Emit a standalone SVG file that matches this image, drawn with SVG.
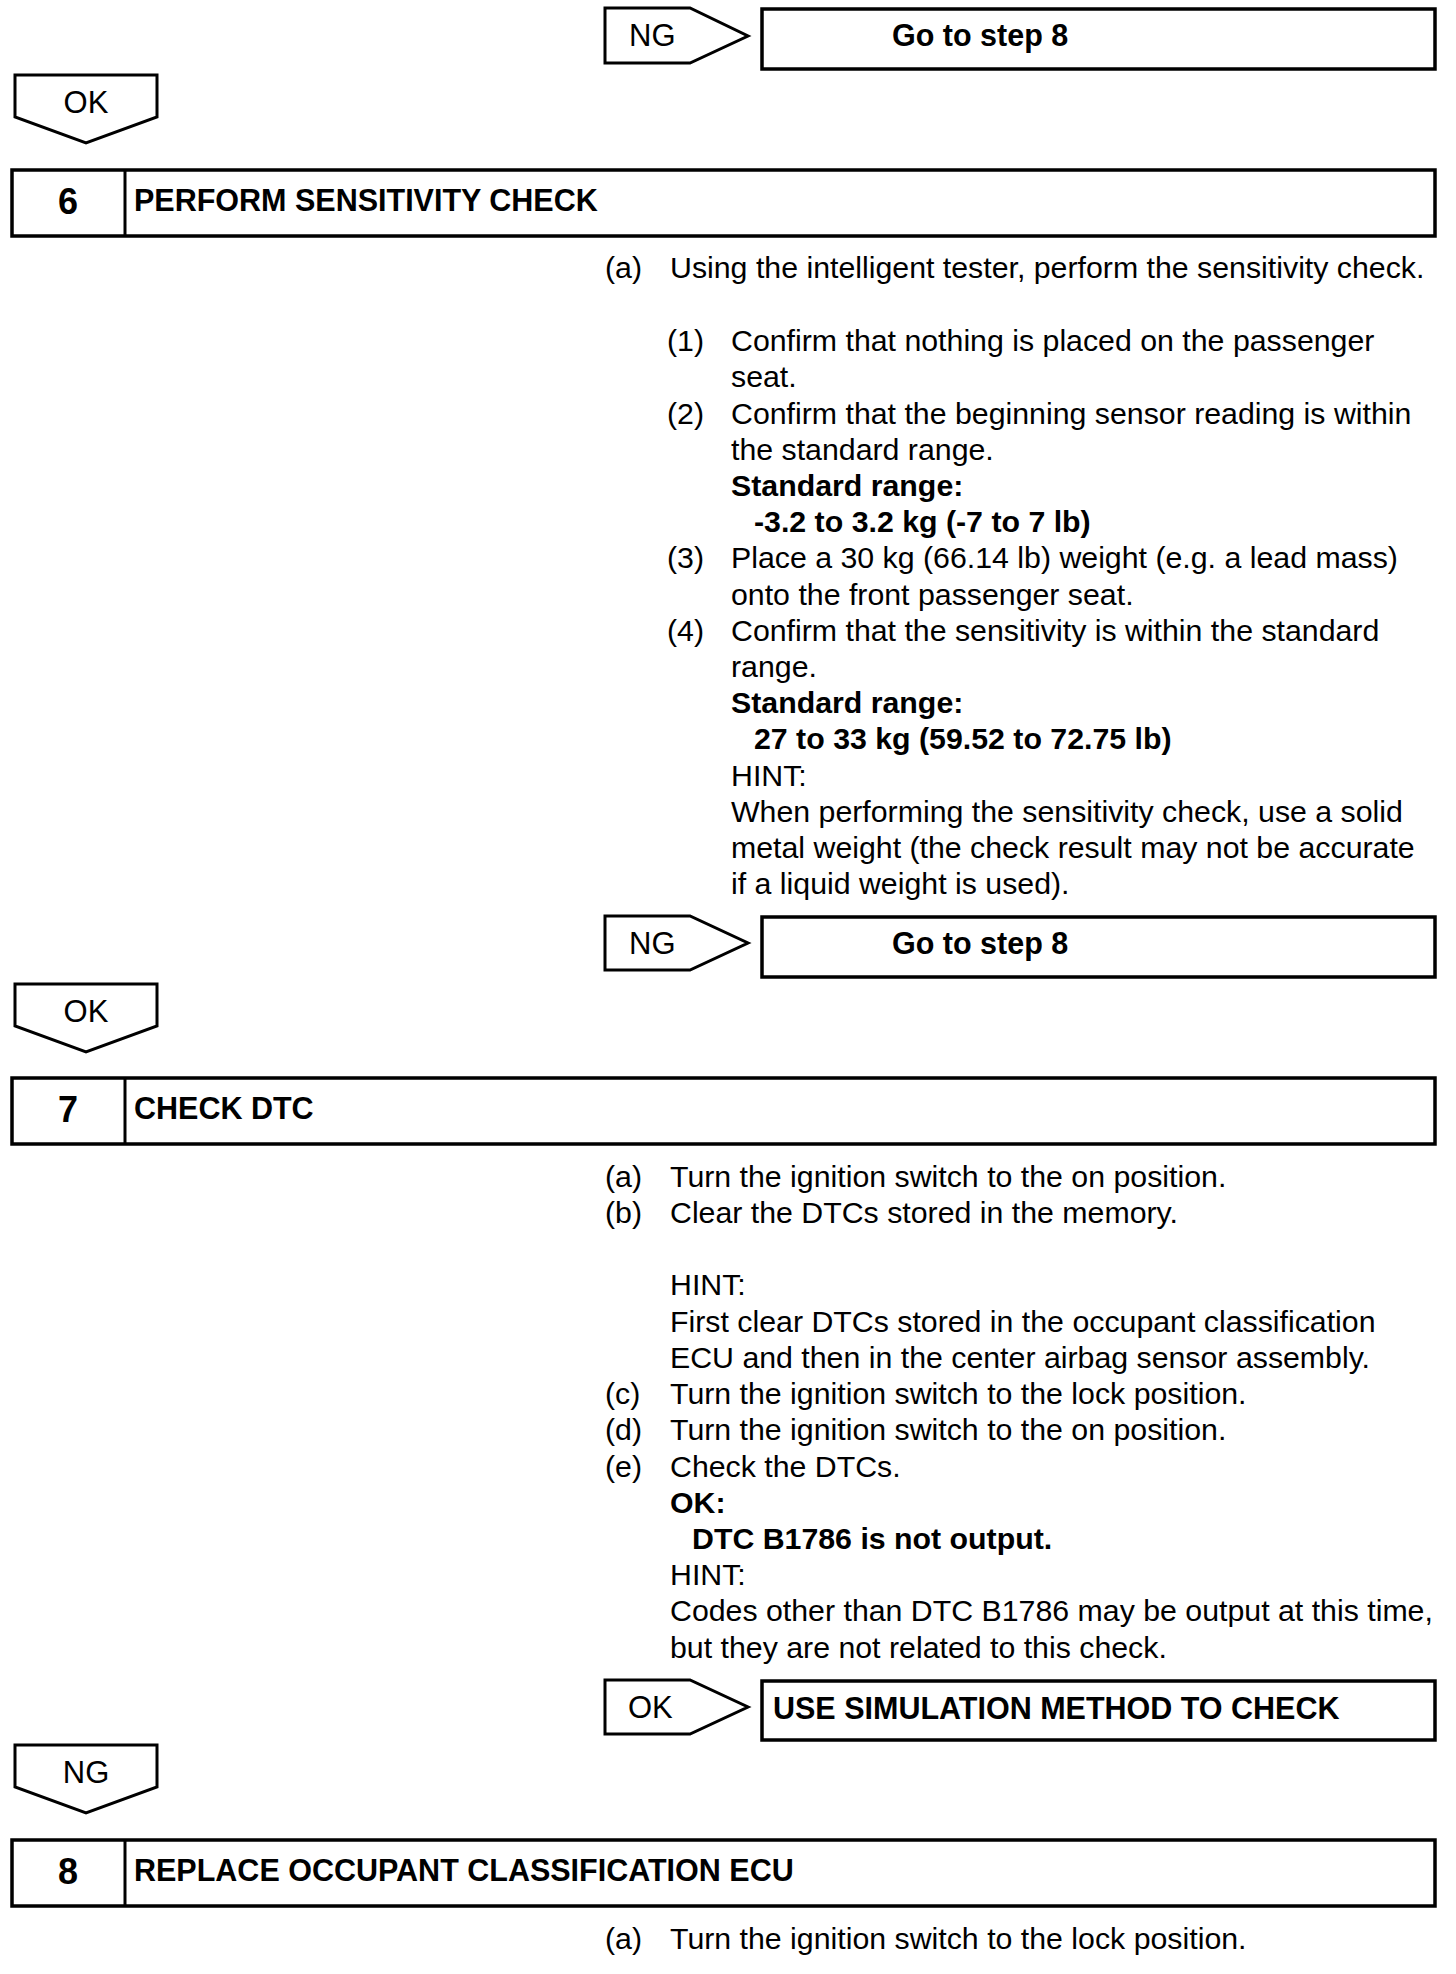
<svg xmlns="http://www.w3.org/2000/svg" width="1456" height="1974" viewBox="0 0 1456 1974">
<style>
  text { font-family: "Liberation Sans", Arial, sans-serif; font-size: 30.3px; fill: #000; }
  .b { font-weight: bold; }
  .c { text-anchor: middle; }
  .hd { font-weight: bold; font-size: 30.5px; }
  .num { font-weight: bold; font-size: 36px; text-anchor: middle; }
  .lbl { font-size: 31px; }
  .box { fill: #fff; stroke: #000; stroke-width: 3.5; }
  .arr { fill: #fff; stroke: #000; stroke-width: 3; stroke-linejoin: miter; }
</style>
<rect x="0" y="0" width="1456" height="1974" fill="#fff"/>

<g id="connectors">
  <g id="ng-6">
    <polygon class="arr" points="605,8 690,8 748,36 690,63 605,63"/>
    <text class="lbl" x="629" y="46">NG</text>
  </g>
  <g id="ok-6">
    <polygon class="arr" points="15,75 157,75 157,117 86,143 15,117"/>
    <text class="lbl c" x="86" y="113">OK</text>
  </g>
  <g id="ng-7">
    <polygon class="arr" points="605,916 690,916 748,943 690,970 605,970"/>
    <text class="lbl" x="629" y="954">NG</text>
  </g>
  <g id="ok-7">
    <polygon class="arr" points="15,984 157,984 157,1026 86,1052 15,1026"/>
    <text class="lbl c" x="86" y="1022">OK</text>
  </g>
  <g id="ok-sim">
    <polygon class="arr" points="605,1680 690,1680 748,1707 690,1734 605,1734"/>
    <text class="lbl" x="628" y="1718">OK</text>
  </g>
  <g id="ng-8">
    <polygon class="arr" points="15,1745 157,1745 157,1787 86,1813 15,1787"/>
    <text class="lbl c" x="86" y="1783">NG</text>
  </g>
</g>

<g id="goto-8-a">
  <rect class="box" x="762" y="9" width="673" height="60"/>
  <text class="hd" x="892" y="46">Go to step 8</text>
</g>

<g id="step-6">
  <rect class="box" x="12" y="170" width="1423" height="66"/>
  <line x1="125" y1="170" x2="125" y2="236" stroke="#000" stroke-width="3"/>
  <text class="num" x="68" y="214">6</text>
  <text class="hd" x="134" y="211">PERFORM SENSITIVITY CHECK</text>
</g>

<g id="step-6-body">
  <text x="605" y="278">(a)</text>
  <text x="670" y="278">Using the intelligent tester, perform the sensitivity check.</text>
  <text x="667" y="351">(1)</text>
  <text x="731" y="351">Confirm that nothing is placed on the passenger</text>
  <text x="731" y="387">seat.</text>
  <text x="667" y="424">(2)</text>
  <text x="731" y="424">Confirm that the beginning sensor reading is within</text>
  <text x="731" y="460">the standard range.</text>
  <text class="b" x="731" y="496">Standard range:</text>
  <text class="b" x="754" y="532">-3.2 to 3.2 kg (-7 to 7 lb)</text>
  <text x="667" y="568">(3)</text>
  <text x="731" y="568">Place a 30 kg (66.14 lb) weight (e.g. a lead mass)</text>
  <text x="731" y="605">onto the front passenger seat.</text>
  <text x="667" y="641">(4)</text>
  <text x="731" y="641">Confirm that the sensitivity is within the standard</text>
  <text x="731" y="677">range.</text>
  <text class="b" x="731" y="713">Standard range:</text>
  <text class="b" x="754" y="749">27 to 33 kg (59.52 to 72.75 lb)</text>
  <text x="731" y="786">HINT:</text>
  <text x="731" y="822">When performing the sensitivity check, use a solid</text>
  <text x="731" y="858">metal weight (the check result may not be accurate</text>
  <text x="731" y="894">if a liquid weight is used).</text>
</g>

<g id="goto-8-b">
  <rect class="box" x="762" y="917" width="673" height="60"/>
  <text class="hd" x="892" y="954">Go to step 8</text>
</g>

<g id="step-7">
  <rect class="box" x="12" y="1078" width="1423" height="66"/>
  <line x1="125" y1="1078" x2="125" y2="1144" stroke="#000" stroke-width="3"/>
  <text class="num" x="68" y="1122">7</text>
  <text class="hd" x="134" y="1119">CHECK DTC</text>
</g>

<g id="step-7-body">
  <text x="605" y="1187">(a)</text>
  <text x="670" y="1187">Turn the ignition switch to the on position.</text>
  <text x="605" y="1223">(b)</text>
  <text x="670" y="1223">Clear the DTCs stored in the memory.</text>
  <text x="670" y="1295">HINT:</text>
  <text x="670" y="1332">First clear DTCs stored in the occupant classification</text>
  <text x="670" y="1368">ECU and then in the center airbag sensor assembly.</text>
  <text x="605" y="1404">(c)</text>
  <text x="670" y="1404">Turn the ignition switch to the lock position.</text>
  <text x="605" y="1440">(d)</text>
  <text x="670" y="1440">Turn the ignition switch to the on position.</text>
  <text x="605" y="1477">(e)</text>
  <text x="670" y="1477">Check the DTCs.</text>
  <text class="b" x="670" y="1513">OK:</text>
  <text class="b" x="692" y="1549">DTC B1786 is not output.</text>
  <text x="670" y="1585">HINT:</text>
  <text x="670" y="1621">Codes other than DTC B1786 may be output at this time,</text>
  <text x="670" y="1658">but they are not related to this check.</text>
</g>

<g id="use-simulation">
  <rect class="box" x="762" y="1681" width="673" height="59"/>
  <text class="hd" x="773" y="1719">USE SIMULATION METHOD TO CHECK</text>
</g>

<g id="step-8">
  <rect class="box" x="12" y="1840" width="1423" height="66"/>
  <line x1="125" y1="1840" x2="125" y2="1906" stroke="#000" stroke-width="3"/>
  <text class="num" x="68" y="1884">8</text>
  <text class="hd" x="134" y="1881">REPLACE OCCUPANT CLASSIFICATION ECU</text>
</g>

<g id="step-8-body">
  <text x="605" y="1949">(a)</text>
  <text x="670" y="1949">Turn the ignition switch to the lock position.</text>
</g>
</svg>
